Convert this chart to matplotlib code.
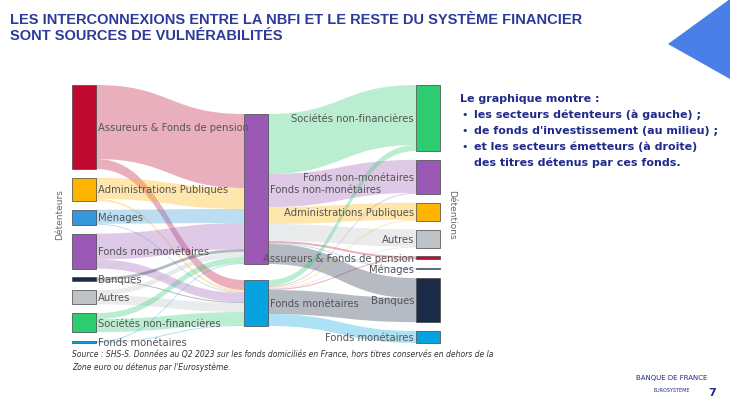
import matplotlib.pyplot as plt
from matplotlib.patches import Rectangle, Polygon, PathPatch
from matplotlib.path import Path

# Noeuds
left_nodes = ["Assureurs & Fonds de pension", "Administrations Publiques", "Ménages",
              "Fonds non-monétaires", "Banques", "Autres", "Sociétés non-financières",
              "Fonds monétaires"]
mid_nodes = ["Fonds non-monétaires", "Fonds monétaires"]
right_nodes = ["Sociétés non-financières", "Fonds non-monétaires", "Administrations Publiques",
               "Autres", "Assureurs & Fonds de pension", "Ménages", "Banques", "Fonds monétaires"]

# Flux gauche -> milieu (vers FNM, vers FM)
left_to_fnm = [74, 21, 14, 26, 3, 5, 6, 1]
left_to_fm = [10, 2, 1, 9, 1, 9, 13, 1]
# Flux milieu -> droite
fnm_to_right = [60, 33, 17, 17, 2, 1, 20, 0]
fm_to_right = [6, 1, 1, 1, 1, 0, 24, 12]

colors = {
    "Assureurs & Fonds de pension": "#c0092f",
    "Administrations Publiques": "#ffb400",
    "Ménages": "#3498db",
    "Fonds non-monétaires": "#9b59b6",
    "Banques": "#1b2a47",
    "Autres": "#bdc3c7",
    "Sociétés non-financières": "#2ecc71",
    "Fonds monétaires": "#06a3e0",
}

fig = plt.figure(figsize=(7.3, 4.1), dpi=100)
ax = fig.add_axes([0, 0, 1, 1])
ax.set_xlim(0, 730)
ax.set_ylim(410, 0)
ax.axis("off")


def layout(sizes, y0, y1):
    gap = (y1 - y0 - sum(sizes)) / (len(sizes) - 1)
    tops = []
    y = y0
    for s in sizes:
        tops.append(y)
        y += s + gap
    return tops


left_sizes = [a + b for a, b in zip(left_to_fnm, left_to_fm)]
mid_sizes = [sum(left_to_fnm), sum(left_to_fm)]
right_sizes = [a + b for a, b in zip(fnm_to_right, fm_to_right)]

xl, xm, xr, w = 72, 244, 416, 24
left_tops = layout(left_sizes, 86, 344)
mid_tops = layout(mid_sizes, 115, 327)
right_tops = layout(right_sizes, 86, 344)


def ribbon(x0, y0, x1, y1, h, color):
    xc = (x0 + x1) / 2
    verts = [(x0, y0), (xc, y0), (xc, y1), (x1, y1),
             (x1, y1 + h), (xc, y1 + h), (xc, y0 + h), (x0, y0 + h), (x0, y0)]
    codes = [Path.MOVETO, Path.CURVE4, Path.CURVE4, Path.CURVE4,
             Path.LINETO, Path.CURVE4, Path.CURVE4, Path.CURVE4, Path.CLOSEPOLY]
    ax.add_patch(PathPatch(Path(verts, codes), facecolor=color, edgecolor="none", alpha=0.32, zorder=1))


# gauche -> milieu
mid_in = list(mid_tops)
left_out = list(left_tops)
for i, name in enumerate(left_nodes):
    for j, flows in enumerate([left_to_fnm, left_to_fm]):
        h = flows[i]
        if h <= 0:
            continue
        ribbon(xl + w, left_out[i], xm, mid_in[j], h, colors[name])
        left_out[i] += h
        mid_in[j] += h

# milieu -> droite
mid_out = list(mid_tops)
right_in = list(right_tops)
for j, flows in enumerate([fnm_to_right, fm_to_right]):
    for k, name in enumerate(right_nodes):
        h = flows[k]
        if h <= 0:
            continue
        ribbon(xm + w, mid_out[j], xr, right_in[k], h, colors[name])
        mid_out[j] += h
        right_in[k] += h

lab = dict(fontsize=7.2, color="#555555", va="center", zorder=3)
for name, t, s in zip(left_nodes, left_tops, left_sizes):
    ax.add_patch(Rectangle((xl, t), w, max(s, 2), facecolor=colors[name], edgecolor="#444444", lw=0.5, zorder=2))
    ax.text(xl + w + 2, t + s / 2, name, ha="left", **lab)
for name, t, s in zip(mid_nodes, mid_tops, mid_sizes):
    ax.add_patch(Rectangle((xm, t), w, s, facecolor=colors[name], edgecolor="#444444", lw=0.5, zorder=2))
    ax.text(xm + w + 2, t + s / 2, name, ha="left", **lab)
for name, t, s in zip(right_nodes, right_tops, right_sizes):
    ax.add_patch(Rectangle((xr, t), w, max(s, 1), facecolor=colors[name], edgecolor="#444444", lw=0.5, zorder=2))
    ax.text(xr - 2, t + s / 2, name, ha="right", **lab)

ax.text(60, 215, "Détenteurs", rotation=90, ha="center", va="center", fontsize=6.5, color="#666666")
ax.text(452, 215, "Détentions", rotation=-90, ha="center", va="center", fontsize=6.5, color="#666666")

# Titre
ax.text(10, 28, "LES INTERCONNEXIONS ENTRE LA NBFI ET LE RESTE DU SYSTÈME FINANCIER\nSONT SOURCES DE VULNÉRABILITÉS",
        fontsize=10.5, fontweight="bold", color="#2b3a9b", va="center", ha="left", linespacing=1.15,
        fontfamily="Liberation Sans")

# Texte explicatif
blue = "#1f2a8a"
ax.text(460, 99, "Le graphique montre :", fontsize=8, fontweight="bold", color=blue, va="center")
bullets = ["les secteurs détenteurs (à gauche) ;", "de fonds d'investissement (au milieu) ;",
           "et les secteurs émetteurs (à droite)"]
for b, y in zip(bullets, [115, 131, 147]):
    ax.text(461, y, "•", fontsize=8, color=blue, va="center")
    ax.text(474, y, b, fontsize=8, fontweight="bold", color=blue, va="center")
ax.text(474, 163, "des titres détenus par ces fonds.", fontsize=8, fontweight="bold", color=blue, va="center")

# Source
ax.text(72, 361, "Source : SHS-S. Données au Q2 2023 sur les fonds domiciliés en France, hors titres conservés en dehors de la\nZone euro ou détenus par l'Eurosystème.",
        fontsize=5.5, style="italic", color="#333333", va="center", linespacing=1.4)

# Décor
ax.add_patch(Polygon([(668, 45), (730, 0), (730, 80)], closed=True, facecolor="#4a7fe8", edgecolor="none"))
ax.text(672, 378, "BANQUE DE FRANCE", fontsize=5, color="#1f2a8a", ha="center", va="center")
ax.text(672, 390, "EUROSYSTÈME", fontsize=3.5, color="#1f2a8a", ha="center", va="center")
ax.text(712, 393, "7", fontsize=8, fontweight="bold", color="#1f2a8a", ha="center", va="center")

fig.savefig("out.png", dpi=100)
